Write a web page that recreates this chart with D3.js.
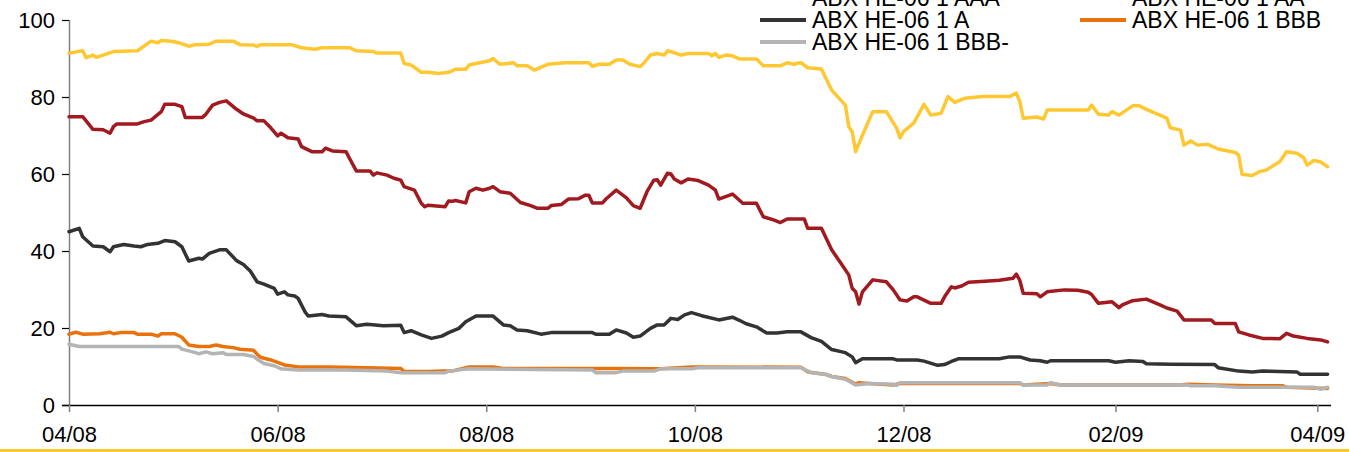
<!DOCTYPE html>
<html>
<head>
<meta charset="utf-8">
<script src="https://cdn.jsdelivr.net/npm/d3@7"></script>
<style>
  html, body { margin: 0; padding: 0; background: #fff; overflow: hidden; }
  svg { display: block; font-family: "Liberation Sans", Arial, Helvetica, sans-serif; }
</style>
</head>
<body>
<svg id="chart" width="1349" height="452"></svg>
<script>
// ABX HE-06 1 index prices by tranche, April 2008 – April 2009
const seriesNames = ["ABX HE-06 1 AAA", "ABX HE-06 1 AA", "ABX HE-06 1 A", "ABX HE-06 1 BBB", "ABX HE-06 1 BBB-"];
const seriesColors = ["#FFC832", "#A01A20", "#333333", "#E8720C", "#B4B4B4"];

const aaa = [
  ["2008-04-01", 91.4], ["2008-04-05", 92.0], ["2008-04-06", 90.2], ["2008-04-08", 90.9], ["2008-04-09", 90.3],
  ["2008-04-11", 90.9], ["2008-04-14", 91.8], ["2008-04-21", 92.0], ["2008-04-25", 94.5], ["2008-04-27", 94.1],
  ["2008-04-28", 94.7], ["2008-05-01", 94.5], ["2008-05-03", 94.1], ["2008-05-06", 93.2], ["2008-05-08", 93.6],
  ["2008-05-12", 93.7], ["2008-05-14", 94.5], ["2008-05-19", 94.5], ["2008-05-21", 93.6], ["2008-05-25", 93.5],
  ["2008-05-26", 93.1], ["2008-05-27", 93.6], ["2008-06-05", 93.6], ["2008-06-08", 92.8], ["2008-06-12", 92.4],
  ["2008-06-14", 92.8], ["2008-06-22", 92.8], ["2008-06-24", 92.0], ["2008-06-29", 91.8], ["2008-06-30", 91.4],
  ["2008-07-07", 91.4], ["2008-07-08", 88.7], ["2008-07-10", 88.3], ["2008-07-13", 86.4], ["2008-07-15", 86.4],
  ["2008-07-18", 86.1], ["2008-07-21", 86.4], ["2008-07-23", 87.2], ["2008-07-26", 87.2], ["2008-07-27", 88.3],
  ["2008-07-30", 88.9], ["2008-08-02", 89.4], ["2008-08-03", 90.0], ["2008-08-05", 88.5], ["2008-08-09", 88.9],
  ["2008-08-10", 88.1], ["2008-08-13", 88.1], ["2008-08-15", 87.0], ["2008-08-19", 88.5], ["2008-08-24", 88.9],
  ["2008-08-31", 88.9], ["2008-09-01", 88.0], ["2008-09-03", 88.5], ["2008-09-06", 88.5], ["2008-09-08", 89.6],
  ["2008-09-10", 89.6], ["2008-09-12", 88.5], ["2008-09-15", 87.9], ["2008-09-16", 88.7], ["2008-09-18", 90.9],
  ["2008-09-20", 91.3], ["2008-09-22", 90.9], ["2008-09-23", 92.0], ["2008-09-25", 91.5], ["2008-09-27", 90.9],
  ["2008-09-29", 91.3], ["2008-10-05", 91.3], ["2008-10-06", 90.7], ["2008-10-07", 91.3], ["2008-10-08", 90.3],
  ["2008-10-10", 90.9], ["2008-10-12", 90.7], ["2008-10-14", 89.9], ["2008-10-19", 89.9], ["2008-10-21", 88.1],
  ["2008-10-26", 88.1], ["2008-10-28", 88.9], ["2008-10-30", 88.5], ["2008-10-31", 88.8], ["2008-11-01", 88.9],
  ["2008-11-03", 87.6], ["2008-11-07", 87.3], ["2008-11-10", 81.8], ["2008-11-14", 77.9], ["2008-11-15", 72.3],
  ["2008-11-16", 71.0], ["2008-11-17", 65.8], ["2008-11-19", 70.1], ["2008-11-22", 76.2], ["2008-11-26", 76.2],
  ["2008-11-29", 71.9], ["2008-11-30", 69.4], ["2008-12-01", 71.0], ["2008-12-04", 73.2], ["2008-12-07", 78.1],
  ["2008-12-09", 75.3], ["2008-12-12", 75.8], ["2008-12-14", 80.1], ["2008-12-16", 78.6], ["2008-12-19", 79.7],
  ["2008-12-24", 80.1], ["2009-01-01", 80.1], ["2009-01-03", 81.0], ["2009-01-04", 78.8], ["2009-01-05", 74.5],
  ["2009-01-09", 74.8], ["2009-01-11", 74.3], ["2009-01-12", 76.6], ["2009-01-24", 76.6], ["2009-01-25", 77.9],
  ["2009-01-27", 75.5], ["2009-01-30", 75.3], ["2009-01-31", 76.2], ["2009-02-02", 75.3], ["2009-02-06", 77.7],
  ["2009-02-08", 77.7], ["2009-02-10", 76.8], ["2009-02-16", 74.5], ["2009-02-17", 72.0], ["2009-02-20", 71.4],
  ["2009-02-21", 67.5], ["2009-02-23", 68.6], ["2009-02-25", 67.5], ["2009-02-28", 67.7], ["2009-03-03", 66.5],
  ["2009-03-08", 65.6], ["2009-03-09", 64.9], ["2009-03-10", 59.9], ["2009-03-13", 59.6], ["2009-03-15", 60.6],
  ["2009-03-17", 61.0], ["2009-03-21", 63.2], ["2009-03-23", 65.8], ["2009-03-26", 65.4], ["2009-03-28", 64.3],
  ["2009-03-29", 62.3], ["2009-03-31", 63.5], ["2009-04-02", 63.1], ["2009-04-04", 61.9]
];

const aa = [
  ["2008-04-01", 74.9], ["2008-04-05", 74.9], ["2008-04-08", 71.6], ["2008-04-11", 71.5], ["2008-04-13", 70.6],
  ["2008-04-14", 72.3], ["2008-04-15", 73.0], ["2008-04-21", 73.0], ["2008-04-23", 73.6], ["2008-04-25", 74.0],
  ["2008-04-28", 76.2], ["2008-04-29", 78.1], ["2008-05-02", 78.1], ["2008-05-04", 77.5], ["2008-05-05", 74.7],
  ["2008-05-10", 74.7], ["2008-05-11", 75.5], ["2008-05-13", 77.9], ["2008-05-15", 78.6], ["2008-05-17", 79.0],
  ["2008-05-20", 76.8], ["2008-05-22", 75.6], ["2008-05-25", 74.5], ["2008-05-26", 73.8], ["2008-05-28", 73.8],
  ["2008-05-30", 72.0], ["2008-06-01", 69.9], ["2008-06-02", 70.6], ["2008-06-04", 69.4], ["2008-06-07", 69.1],
  ["2008-06-08", 67.1], ["2008-06-11", 65.8], ["2008-06-14", 65.8], ["2008-06-15", 66.7], ["2008-06-17", 66.0],
  ["2008-06-21", 65.8], ["2008-06-22", 64.1], ["2008-06-24", 60.8], ["2008-06-28", 60.8], ["2008-06-29", 59.7],
  ["2008-06-30", 60.3], ["2008-07-03", 59.7], ["2008-07-05", 58.9], ["2008-07-07", 58.4], ["2008-07-08", 56.7],
  ["2008-07-11", 55.8], ["2008-07-13", 52.4], ["2008-07-14", 51.5], ["2008-07-15", 51.9], ["2008-07-20", 51.5],
  ["2008-07-21", 53.0], ["2008-07-22", 52.9], ["2008-07-23", 53.1], ["2008-07-26", 52.5], ["2008-07-27", 55.4],
  ["2008-07-29", 56.3], ["2008-07-31", 55.8], ["2008-08-02", 56.3], ["2008-08-03", 56.7], ["2008-08-05", 55.4],
  ["2008-08-08", 55.0], ["2008-08-11", 52.6], ["2008-08-14", 51.8], ["2008-08-16", 51.1], ["2008-08-19", 51.1],
  ["2008-08-20", 51.8], ["2008-08-23", 52.1], ["2008-08-25", 53.5], ["2008-08-28", 53.6], ["2008-08-30", 54.5],
  ["2008-08-31", 54.5], ["2008-09-01", 52.5], ["2008-09-04", 52.5], ["2008-09-05", 53.5], ["2008-09-08", 55.8],
  ["2008-09-11", 53.8], ["2008-09-13", 51.8], ["2008-09-15", 51.1], ["2008-09-17", 55.4], ["2008-09-19", 58.4],
  ["2008-09-20", 58.5], ["2008-09-21", 57.1], ["2008-09-23", 60.2], ["2008-09-24", 60.0], ["2008-09-25", 58.7],
  ["2008-09-27", 57.7], ["2008-09-29", 58.7], ["2008-10-02", 58.3], ["2008-10-05", 57.1], ["2008-10-07", 55.8],
  ["2008-10-08", 53.5], ["2008-10-09", 53.8], ["2008-10-12", 54.8], ["2008-10-15", 52.4], ["2008-10-19", 52.4],
  ["2008-10-21", 48.9], ["2008-10-24", 48.1], ["2008-10-26", 47.4], ["2008-10-28", 48.3], ["2008-11-02", 48.3],
  ["2008-11-03", 45.9], ["2008-11-07", 45.9], ["2008-11-10", 40.3], ["2008-11-13", 36.4], ["2008-11-15", 33.8],
  ["2008-11-16", 30.3], ["2008-11-17", 29.4], ["2008-11-18", 26.2], ["2008-11-19", 29.4], ["2008-11-22", 32.5],
  ["2008-11-26", 32.0], ["2008-11-28", 29.9], ["2008-11-30", 27.3], ["2008-12-02", 27.0], ["2008-12-04", 28.1],
  ["2008-12-05", 28.1], ["2008-12-09", 26.4], ["2008-12-12", 26.4], ["2008-12-13", 28.1], ["2008-12-15", 30.7],
  ["2008-12-16", 30.4], ["2008-12-18", 30.9], ["2008-12-20", 31.9], ["2008-12-26", 32.2], ["2008-12-29", 32.4],
  ["2009-01-02", 32.9], ["2009-01-03", 34.0], ["2009-01-04", 32.4], ["2009-01-05", 29.0], ["2009-01-09", 28.9],
  ["2009-01-10", 28.1], ["2009-01-12", 29.4], ["2009-01-17", 29.9], ["2009-01-21", 29.8], ["2009-01-24", 29.3],
  ["2009-01-25", 28.7], ["2009-01-27", 26.4], ["2009-01-31", 26.8], ["2009-02-02", 25.3], ["2009-02-03", 26.0],
  ["2009-02-06", 27.1], ["2009-02-10", 27.5], ["2009-02-14", 26.0], ["2009-02-16", 25.2], ["2009-02-19", 24.4],
  ["2009-02-21", 22.1], ["2009-03-01", 22.1], ["2009-03-02", 21.2], ["2009-03-08", 21.2], ["2009-03-09", 19.0],
  ["2009-03-12", 18.2], ["2009-03-16", 17.3], ["2009-03-21", 17.2], ["2009-03-23", 18.6], ["2009-03-25", 17.9],
  ["2009-03-29", 17.3], ["2009-04-02", 16.9], ["2009-04-04", 16.4]
];

const a = [
  ["2008-04-01", 45.0], ["2008-04-04", 45.9], ["2008-04-05", 43.7], ["2008-04-08", 41.3], ["2008-04-11", 41.1],
  ["2008-04-13", 39.8], ["2008-04-14", 41.1], ["2008-04-17", 41.7], ["2008-04-20", 41.3], ["2008-04-22", 41.1],
  ["2008-04-24", 41.7], ["2008-04-27", 42.0], ["2008-04-29", 42.7], ["2008-05-02", 42.4], ["2008-05-04", 41.1],
  ["2008-05-06", 37.4], ["2008-05-09", 38.1], ["2008-05-10", 37.9], ["2008-05-12", 39.4], ["2008-05-15", 40.3],
  ["2008-05-17", 40.3], ["2008-05-20", 37.5], ["2008-05-22", 36.5], ["2008-05-24", 34.8], ["2008-05-26", 32.0],
  ["2008-05-28", 31.4], ["2008-05-31", 30.3], ["2008-06-01", 28.8], ["2008-06-03", 29.4], ["2008-06-04", 28.6],
  ["2008-06-06", 28.3], ["2008-06-07", 27.7], ["2008-06-09", 24.2], ["2008-06-10", 23.1], ["2008-06-14", 23.5],
  ["2008-06-16", 23.1], ["2008-06-21", 22.9], ["2008-06-24", 20.6], ["2008-06-27", 21.0], ["2008-07-02", 20.6],
  ["2008-07-07", 20.7], ["2008-07-08", 18.8], ["2008-07-10", 19.3], ["2008-07-13", 18.2], ["2008-07-16", 17.3],
  ["2008-07-19", 17.9], ["2008-07-21", 18.8], ["2008-07-24", 19.9], ["2008-07-26", 21.6], ["2008-07-29", 23.1],
  ["2008-08-03", 23.1], ["2008-08-06", 20.8], ["2008-08-08", 20.6], ["2008-08-10", 19.5], ["2008-08-13", 19.3],
  ["2008-08-17", 18.4], ["2008-08-20", 18.8], ["2008-09-01", 18.8], ["2008-09-02", 18.4], ["2008-09-06", 18.4],
  ["2008-09-08", 19.5], ["2008-09-11", 18.7], ["2008-09-13", 17.6], ["2008-09-15", 17.9], ["2008-09-18", 19.9],
  ["2008-09-20", 20.8], ["2008-09-22", 20.8], ["2008-09-24", 22.5], ["2008-09-26", 22.2], ["2008-09-28", 23.4],
  ["2008-09-30", 24.0], ["2008-10-03", 23.2], ["2008-10-08", 22.1], ["2008-10-12", 22.8], ["2008-10-14", 22.0],
  ["2008-10-16", 21.1], ["2008-10-19", 20.3], ["2008-10-22", 18.7], ["2008-10-25", 18.7], ["2008-10-28", 19.0],
  ["2008-11-01", 19.0], ["2008-11-04", 17.5], ["2008-11-07", 16.5], ["2008-11-10", 14.4], ["2008-11-14", 13.6],
  ["2008-11-16", 12.5], ["2008-11-17", 11.0], ["2008-11-19", 12.0], ["2008-11-28", 12.0], ["2008-11-29", 11.7],
  ["2008-12-05", 11.7], ["2008-12-07", 11.4], ["2008-12-11", 10.3], ["2008-12-13", 10.5], ["2008-12-15", 11.3],
  ["2008-12-17", 12.0], ["2008-12-29", 12.0], ["2009-01-01", 12.5], ["2009-01-04", 12.5], ["2009-01-07", 11.7],
  ["2009-01-10", 11.5], ["2009-01-12", 11.1], ["2009-01-13", 11.5], ["2009-01-30", 11.5], ["2009-02-01", 11.1],
  ["2009-02-05", 11.5], ["2009-02-09", 11.3], ["2009-02-10", 10.7], ["2009-02-17", 10.6], ["2009-03-02", 10.5],
  ["2009-03-03", 9.7], ["2009-03-09", 8.8], ["2009-03-13", 8.6], ["2009-03-16", 8.8], ["2009-03-26", 8.6],
  ["2009-03-27", 8.0], ["2009-04-04", 8.0]
];

const bbb = [
  ["2008-04-01", 18.4], ["2008-04-03", 18.9], ["2008-04-05", 18.4], ["2008-04-10", 18.5], ["2008-04-13", 18.9],
  ["2008-04-14", 18.5], ["2008-04-16", 18.8], ["2008-04-20", 18.8], ["2008-04-21", 18.4], ["2008-04-25", 18.4],
  ["2008-04-27", 17.9], ["2008-04-28", 18.5], ["2008-05-02", 18.5], ["2008-05-04", 17.6], ["2008-05-06", 15.6],
  ["2008-05-09", 15.2], ["2008-05-12", 15.2], ["2008-05-14", 15.6], ["2008-05-16", 15.2], ["2008-05-19", 14.9],
  ["2008-05-21", 14.5], ["2008-05-25", 14.2], ["2008-05-26", 13.2], ["2008-05-27", 12.4], ["2008-05-30", 11.7],
  ["2008-06-03", 10.4], ["2008-06-07", 9.9], ["2008-06-16", 9.9], ["2008-06-20", 9.8], ["2008-07-07", 9.5],
  ["2008-07-08", 8.7], ["2008-07-15", 8.7], ["2008-07-20", 8.8], ["2008-07-22", 8.8], ["2008-07-27", 9.9],
  ["2008-08-03", 9.9], ["2008-08-06", 9.5], ["2008-09-07", 9.5], ["2008-09-21", 9.4], ["2008-09-30", 9.9],
  ["2008-10-02", 9.9], ["2008-11-01", 9.8], ["2008-11-03", 8.6], ["2008-11-08", 8.0], ["2008-11-10", 7.4],
  ["2008-11-14", 6.9], ["2008-11-17", 5.4], ["2008-11-18", 5.8], ["2008-11-21", 5.6], ["2008-11-28", 5.2],
  ["2008-11-30", 5.6], ["2009-01-04", 5.6], ["2009-01-05", 5.2], ["2009-01-13", 5.6], ["2009-01-16", 5.2],
  ["2009-02-20", 5.2], ["2009-02-22", 5.4], ["2009-03-02", 5.2], ["2009-03-13", 5.0], ["2009-03-22", 5.0],
  ["2009-03-23", 4.6], ["2009-04-04", 4.3]
];

const bbbMinus = [
  ["2008-04-01", 15.8], ["2008-04-04", 15.2], ["2008-05-03", 15.2], ["2008-05-04", 14.5], ["2008-05-08", 13.6],
  ["2008-05-09", 13.3], ["2008-05-11", 13.8], ["2008-05-13", 13.3], ["2008-05-16", 13.6], ["2008-05-17", 13.1],
  ["2008-05-22", 13.1], ["2008-05-25", 12.6], ["2008-05-26", 11.9], ["2008-05-28", 10.8], ["2008-05-31", 10.2],
  ["2008-06-02", 9.4], ["2008-06-07", 9.1], ["2008-06-21", 9.1], ["2008-07-03", 8.8], ["2008-07-07", 8.4],
  ["2008-07-20", 8.4], ["2008-07-21", 8.8], ["2008-07-27", 9.4], ["2008-09-01", 9.1], ["2008-09-02", 8.4],
  ["2008-09-08", 8.4], ["2008-09-10", 8.8], ["2008-09-19", 8.8], ["2008-09-21", 9.4], ["2008-09-30", 9.4],
  ["2008-10-02", 9.7], ["2008-11-01", 9.7], ["2008-11-04", 8.4], ["2008-11-08", 8.0], ["2008-11-10", 7.4],
  ["2008-11-14", 6.7], ["2008-11-17", 5.2], ["2008-11-21", 5.6], ["2008-11-28", 5.4], ["2008-11-29", 5.1],
  ["2008-11-30", 5.8], ["2009-01-04", 5.8], ["2009-01-05", 5.2], ["2009-01-12", 5.2], ["2009-01-13", 5.8],
  ["2009-01-16", 5.2], ["2009-02-22", 5.2], ["2009-02-23", 5.0], ["2009-03-02", 5.0], ["2009-03-09", 4.6],
  ["2009-03-31", 4.6], ["2009-04-02", 4.1], ["2009-04-04", 4.6]
];

const seriesData = [aaa, aa, a, bbb, bbbMinus];

const xDomain = ["2008-04-01", "2009-04-05"];
const xTickDates = ["2008-04-01", "2008-06-01", "2008-08-01", "2008-10-01", "2008-12-01", "2009-02-01", "2009-04-01"];
const yTicks = [0, 20, 40, 60, 80, 100];

const parse = d3.utcParse("%Y-%m-%d");
const svg = d3.select("#chart");
const W = 1349, H = 452;
const plotLeft = 69, plotRight = 1331, plotTop = 20, plotBottom = 405;
const axisFontSize = 22;
const legendFontSize = 23;

const x = d3.scaleUtc().domain(xDomain.map(parse)).range([plotLeft, plotRight]);
const y = d3.scaleLinear().domain([0, 100]).range([plotBottom, plotTop]);

// y axis
const yAxis = svg.append("g")
  .attr("transform", `translate(${plotLeft},0)`)
  .call(d3.axisLeft(y).tickValues(yTicks).tickSize(7).tickPadding(7));
yAxis.select(".domain").attr("stroke", "#808080").attr("stroke-width", 1.5)
  .attr("d", `M0.5,${plotTop}V${plotBottom}`);
yAxis.selectAll(".tick line").attr("stroke", "#000").attr("stroke-width", 1.2);
yAxis.selectAll(".tick text").attr("font-size", axisFontSize).attr("font-family", "Liberation Sans, Arial, sans-serif").attr("fill", "#000");

// x axis
const xAxis = svg.append("g")
  .attr("transform", `translate(0,${plotBottom})`)
  .call(d3.axisBottom(x).tickValues(xTickDates.map(parse)).tickFormat(d3.utcFormat("%m/%y")).tickSize(7).tickPadding(14));
xAxis.select(".domain").attr("stroke", "#000").attr("stroke-width", 1.5)
  .attr("d", `M${plotLeft - 7},0.5H${plotRight}`);
xAxis.selectAll(".tick line").attr("stroke", "#808080").attr("stroke-width", 1.5);
xAxis.selectAll(".tick text").attr("font-size", axisFontSize).attr("font-family", "Liberation Sans, Arial, sans-serif").attr("fill", "#000");

// series lines
const line = d3.line()
  .x(d => x(parse(d[0])))
  .y(d => y(d[1]))
  .curve(d3.curveLinear);

seriesData.forEach((data, i) => {
  svg.append("path")
    .datum(data)
    .attr("fill", "none")
    .attr("stroke", seriesColors[i])
    .attr("stroke-width", 3.5)
    .attr("stroke-linejoin", "round")
    .attr("stroke-linecap", "round")
    .attr("d", line);
});

// legend: two columns, three rows, partly above the top edge
const legendCols = [760, 1080];
const legendRowY = [-2, 20, 42];
const legendPos = [[0, 0], [1, 0], [0, 1], [1, 1], [0, 2]];
const legend = svg.append("g");
seriesNames.forEach((name, i) => {
  const [c, r] = legendPos[i];
  const lx = legendCols[c], ly = legendRowY[r];
  legend.append("line")
    .attr("x1", lx).attr("x2", lx + 46)
    .attr("y1", ly).attr("y2", ly)
    .attr("stroke", seriesColors[i]).attr("stroke-width", 4);
  legend.append("text")
    .attr("x", lx + 52).attr("y", ly + 8)
    .attr("font-size", legendFontSize)
    .attr("fill", "#000")
    .text(name);
});

// bottom rule
svg.append("line")
  .attr("x1", 0).attr("x2", W)
  .attr("y1", 450.5).attr("y2", 450.5)
  .attr("stroke", "#FFC832").attr("stroke-width", 3);
</script>
</body>
</html>
